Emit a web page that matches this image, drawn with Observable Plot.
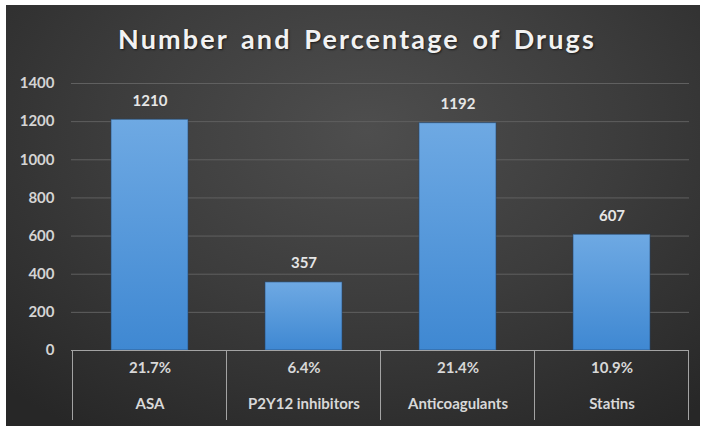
<!DOCTYPE html>
<html>
<head>
<meta charset="utf-8">
<script src="https://cdn.jsdelivr.net/npm/d3@7"></script>
<script src="https://cdn.jsdelivr.net/npm/@observablehq/plot@0.6"></script>
<style>
  html, body { margin: 0; padding: 0; background: #ffffff; }
  #wrap { position: relative; width: 702px; height: 426px; overflow: hidden; }
  #bg { position: absolute; left: 6px; top: 5px; right: 2px; bottom: 0;
        background: radial-gradient(ellipse 75% 85% at 52% 30%, #4e4e4e 0%, #3c3c3c 50%, #272727 100%); }
  #title { position: absolute; left: 0; width: 714px; top: 25px; text-align: center;
           font-family: Lato, "Open Sans", sans-serif; font-weight: bold; font-size: 27px; line-height: 27px;
           color: #f2f2f2; letter-spacing: 2.1px; word-spacing: 4px;
           text-shadow: 1px 1px 2px rgba(0,0,0,0.6); }
  #chart { position: absolute; left: 0; top: 0; }
  #chart svg { background: transparent !important; }
</style>
</head>
<body>
<div id="wrap">
  <div id="bg"></div>
  <div id="chart"></div>
  <div id="title">Number and Percentage of Drugs</div>
</div>
<script>
const categories = ["ASA", "P2Y12 inhibitors", "Anticoagulants", "Statins"];
const counts = [1210, 357, 1192, 607];
const percents = ["21.7%", "6.4%", "21.4%", "10.9%"];
const yTicks = [0, 200, 400, 600, 800, 1000, 1200, 1400];

const data = categories.map((c, i) => ({category: c, count: counts[i], pct: percents[i]}));

const font = "Lato, 'Open Sans', sans-serif";
const axisColor = "#a3a3a3";

// Dividers at band boundaries, derived from the x scale
function dividers() {
  return (index, scales, values, dimensions) => {
    const x = scales.x;
    const bw = x.bandwidth ? x.bandwidth() : 0;
    const step = x.step ? x.step() : bw * 2;
    const half = (step - bw) / 2;
    const y0 = dimensions.height - dimensions.marginBottom;
    const xs = categories.map(c => x(c) - half);
    xs.push(x(categories[categories.length - 1]) + bw + half);
    const g = d3.create("svg:g");
    g.selectAll("line").data(xs).join("line")
      .attr("x1", d => d).attr("x2", d => d)
      .attr("y1", y0).attr("y2", y0 + 70)
      .attr("stroke", axisColor).attr("stroke-width", 1);
    return g.node();
  };
}

const plot = Plot.plot({
  width: 702,
  height: 426,
  marginLeft: 71,
  marginRight: 13,
  marginTop: 83,
  marginBottom: 76,
  style: {background: "transparent", fontFamily: font, color: "#d6d6d6"},
  x: {domain: categories, paddingInner: 0.5, paddingOuter: 0.25, axis: null},
  y: {domain: [0, 1400], ticks: yTicks, axis: null, label: null},
  marks: [
    Plot.gridY(yTicks.filter(d => d > 0), {stroke: "#606060", strokeOpacity: 1, strokeWidth: 1}),
    Plot.axisY({ticks: yTicks, label: null, tickSize: 0, tickPadding: 17, fontSize: 15, fontWeight: "bold", fill: "#d4d4d4", tickFormat: d => String(d)}),
    Plot.barY(data, {x: "category", y: "count", fill: "url(#barGrad)", stroke: "#24476e", strokeWidth: 1, strokeOpacity: 0.6}),
    Plot.text(data, {x: "category", y: "count", text: d => String(d.count), dy: -19, fontSize: 15, fontWeight: "bold", fill: "#e6e6e6"}),
    Plot.ruleY([0], {stroke: axisColor, strokeWidth: 1}),
    Plot.text(data, {x: "category", text: "pct", frameAnchor: "bottom", dy: 22, fontSize: 15, fontWeight: "bold", fill: "#d8d8d8"}),
    Plot.text(data, {x: "category", text: "category", frameAnchor: "bottom", dy: 58, fontSize: 15, fontWeight: "bold", fill: "#d8d8d8", letterSpacing: "0.5px"}),
    dividers()
  ]
});

// gradient definition for bars
const svg = d3.select(plot);
const defs = svg.insert("defs", ":first-child");
const grad = defs.append("linearGradient").attr("id", "barGrad")
  .attr("x1", 0).attr("y1", 0).attr("x2", 0).attr("y2", 1);
grad.append("stop").attr("offset", "0%").attr("stop-color", "#6ea9e3");
grad.append("stop").attr("offset", "100%").attr("stop-color", "#3f88d2");

document.getElementById("chart").appendChild(plot);
</script>
</body>
</html>
